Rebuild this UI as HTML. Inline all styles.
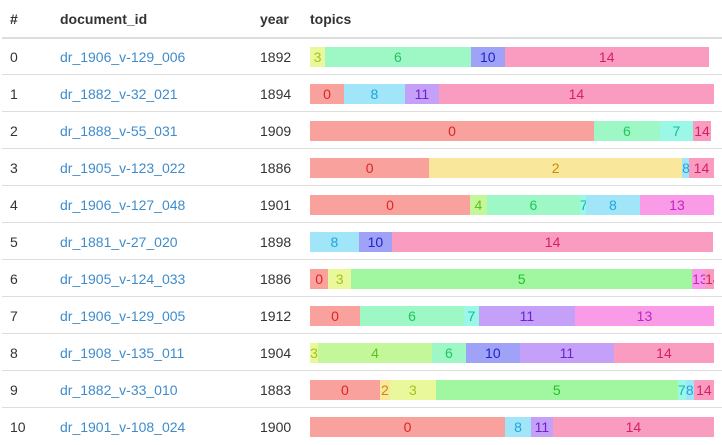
<!DOCTYPE html>
<html><head><meta charset="utf-8"><style>
body{margin:0;width:722px;height:445px;background:#fff;font-family:"Liberation Sans",sans-serif;font-size:14px;color:#333;overflow:hidden;position:relative}
.h{position:absolute;top:11px;font-weight:bold;color:#333}
.hl{position:absolute;left:2px;right:0;top:37px;height:2px;background:#ddd}
.row{position:absolute;left:2px;right:0;height:37px}
.sep{position:absolute;left:0;right:0;bottom:0;height:1px;background:#ddd}
.c{position:absolute;top:11px}
a{color:#3f8ccc;text-decoration:none}
.bar{position:absolute;left:308px;top:9px;width:404px;height:20px;display:flex}
.seg{height:20px;line-height:20px;text-align:center;overflow:hidden;white-space:nowrap;font-size:14px}
</style></head><body>
<div class="h" style="left:10px">#</div>
<div class="h" style="left:60px">document_id</div>
<div class="h" style="left:260px">year</div>
<div class="h" style="left:310px">topics</div>
<div class="hl"></div>
<div id="rows"></div>
<script>
const docIds=["dr_1906_v-129_006","dr_1882_v-32_021","dr_1888_v-55_031","dr_1905_v-123_022","dr_1906_v-127_048","dr_1881_v-27_020","dr_1905_v-124_033","dr_1906_v-129_005","dr_1908_v-135_011","dr_1882_v-33_010","dr_1901_v-108_024"];
const years=[1892,1894,1909,1886,1901,1898,1886,1912,1904,1883,1900];
const topicIds=[[3,6,10,14],[0,8,11,14],[0,6,7,14],[0,2,8,14],[0,4,6,7,8,13],[8,10,14],[0,3,5,13,14],[0,6,7,11,13],[3,4,6,10,11,14],[0,2,3,5,7,8,14],[0,8,11,14]];
const topicShares=[[3.7,36.1,8.4,50.5],[8.4,15.1,8.4,68.1],[70.3,16.3,8.2,4.5],[29.5,62.6,1.7,6.2],[39.6,4.2,23.0,1.5,13.4,18.3],[12.1,8.2,79.5],[4.5,5.7,84.4,3.2,2.2],[12.4,25.7,3.7,23.8,34.4],[2.0,28.2,8.4,13.4,23.3,24.8],[17.3,2.5,11.4,59.9,2.0,2.0,5.0],[48.3,6.4,5.4,39.9]];
const bg={0:"#f9a19c",2:"#f9e79c",3:"#e9f89a",4:"#c3f79a",5:"#a0f79f",6:"#9ef8c5",7:"#9cf8e6",8:"#a0e6f8",10:"#a0a2f8",11:"#c4a0f8",13:"#f99be6",14:"#f99cc0"};
const fg={0:"#dc2626",2:"#ca8a04",3:"#a3c41a",4:"#5fc21d",5:"#22c02a",6:"#22c55e",7:"#14b8a6",8:"#1ea5db",10:"#2024c8",11:"#7022ce",13:"#c026c3",14:"#d81f66"};
const rows=document.getElementById('rows');
docIds.forEach((d,i)=>{
  const r=document.createElement('div');r.className='row';r.style.top=(38+i*37)+'px';
  
  
  r.innerHTML='<div class="c" style="left:8px">'+i+'</div><a class="c" style="left:58px" href="#">'+d+'</a><div class="c" style="left:258px">'+years[i]+'</div>';
  const a=r.querySelector('a');
  
  
  const b=document.createElement('div');b.className='bar';
  
  
  topicIds[i].forEach((t,j)=>{
    const s=document.createElement('div');s.className='seg';
    s.style.width=(topicShares[i][j]/100*404)+'px';
    s.style.background=bg[t];s.style.color=fg[t];s.textContent=t;
    
    
    b.appendChild(s);
  });
  r.appendChild(b);
  if(i<docIds.length-1){const sp=document.createElement('div');sp.className='sep';
  
  
  r.appendChild(sp);}
  rows.appendChild(r);
});
</script>
</body></html>
